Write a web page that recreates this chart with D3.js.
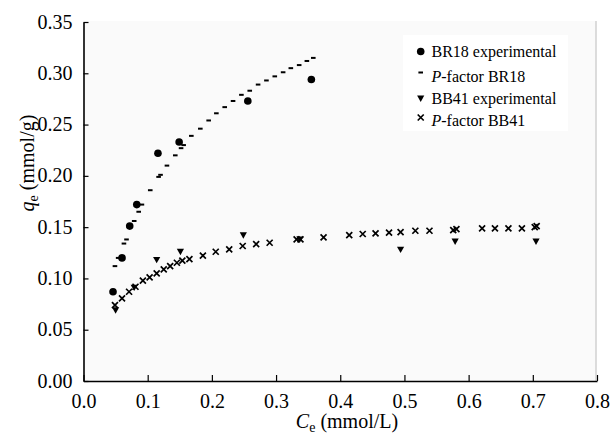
<!DOCTYPE html>
<html><head><meta charset="utf-8">
<script src="https://cdn.jsdelivr.net/npm/d3@7"></script>
<style>body{margin:0;background:#fff}svg{display:block}svg text{font-family:"Liberation Serif","Times New Roman",Times,"DejaVu Serif",serif !important;fill:#000}</style>
</head><body><svg id="c" width="611" height="437"></svg>
<script>
const xTicks = [0.0,0.1,0.2,0.3,0.4,0.5,0.6,0.7,0.8];
const yTicks = [0.00,0.05,0.10,0.15,0.20,0.25,0.30,0.35];

const br18ExpX = [0.046,0.060,0.072,0.083,0.116,0.149,0.256,0.355];
const br18ExpY = [0.087,0.120,0.151,0.172,0.222,0.233,0.273,0.294];

const br18FitX = [0.049,0.054,0.063,0.067,0.079,0.086,0.091,0.104,0.117,0.120,0.130,0.143,0.152,0.156,0.168,0.182,0.195,0.207,0.220,0.233,0.246,0.259,0.272,0.285,0.298,0.311,0.323,0.336,0.348,0.358];
const br18FitY = [0.112,0.120,0.134,0.138,0.156,0.165,0.172,0.186,0.199,0.201,0.210,0.220,0.227,0.230,0.239,0.246,0.254,0.261,0.267,0.273,0.279,0.283,0.289,0.293,0.297,0.301,0.305,0.308,0.312,0.315];

const bb41ExpX = [0.050,0.079,0.114,0.151,0.249,0.337,0.494,0.579,0.705];
const bb41ExpY = [0.069,0.091,0.118,0.126,0.142,0.138,0.128,0.136,0.136];

const bb41FitX = [0.049,0.060,0.071,0.081,0.0925,0.103,0.114,0.125,0.135,0.1455,0.154,0.165,0.186,0.206,0.227,0.248,0.269,0.290,0.332,0.338,0.374,0.414,0.435,0.455,0.476,0.494,0.517,0.539,0.576,0.581,0.621,0.641,0.662,0.683,0.703,0.706];
const bb41FitY = [0.074,0.0806,0.087,0.0919,0.0978,0.101,0.105,0.1089,0.112,0.1153,0.1173,0.1189,0.1222,0.126,0.1284,0.1316,0.1335,0.1348,0.1381,0.1381,0.140,0.1423,0.1433,0.144,0.1446,0.1452,0.1465,0.1465,0.147,0.148,0.1488,0.1488,0.1488,0.1488,0.150,0.151];

const legendLabels = [
  {kind:"circle", parts:[["BR18 experimental",false]]},
  {kind:"dash", parts:[["P",true],["-factor BR18",false]]},
  {kind:"tri", parts:[["BB41 experimental",false]]},
  {kind:"cross", parts:[["P",true],["-factor BB41",false]]}
];

const FONT = "'Liberation Serif','Times New Roman',Times,'DejaVu Serif',serif";
const svg = d3.select("#c").attr("font-family",FONT);
const L=83.5, R=597, T=22, B=381;
const x = d3.scaleLinear().domain([0,0.8]).range([L,R]);
const y = d3.scaleLinear().domain([0,0.35]).range([B,T]);

svg.append("rect").attr("x",L).attr("y",T-1).attr("width",R-L).attr("height",B-T+1).attr("fill","#fafafa");
svg.append("line").attr("x1",R-1).attr("x2",R-1).attr("y1",T-1).attr("y2",B).attr("stroke","#bdbdbd").attr("stroke-width",1);

// axes
const xa = svg.append("g").attr("transform",`translate(0,${B})`)
  .call(d3.axisBottom(x).tickValues(xTicks).tickFormat(d3.format(".1f")).tickSizeInner(-6).tickSizeOuter(0).tickPadding(13));
const ya = svg.append("g").attr("transform",`translate(${L},0)`)
  .call(d3.axisLeft(y).tickValues(yTicks).tickFormat(d3.format(".2f")).tickSizeInner(-5).tickSizeOuter(0).tickPadding(11));
[xa,ya].forEach(a=>{
  a.attr("font-family",FONT).attr("font-size",20);
  a.select(".domain").attr("stroke","#000").attr("stroke-width",1.6);
  a.selectAll(".tick line").attr("stroke","#000").attr("stroke-width",1.2);
  a.selectAll(".tick text").attr("font-size",20).attr("font-family",FONT).attr("fill","#000");
});
ya.selectAll(".tick text").attr("dy","0.3em");

// axis titles
const xt = svg.append("text").attr("x",347).attr("y",428).attr("text-anchor","middle").attr("font-size",20).attr("font-family",FONT);
xt.append("tspan").attr("font-style","italic").text("C");
xt.append("tspan").attr("font-size",14).attr("dy",4).text("e");
xt.append("tspan").attr("dy",-4).text(" (mmol/L)");

const yt = svg.append("text").attr("transform","translate(34,163) rotate(-90)").attr("text-anchor","middle").attr("font-size",20).attr("font-family",FONT);
yt.append("tspan").attr("font-style","italic").text("q");
yt.append("tspan").attr("font-size",14).attr("dy",4).text("e");
yt.append("tspan").attr("dy",-4).text(" (mmol/g)");

// markers
function drawCircle(g,cx,cy){g.append("circle").attr("cx",cx).attr("cy",cy).attr("r",3.8).attr("fill","#000");}
function drawDash(g,cx,cy){g.append("rect").attr("x",cx-2.3).attr("y",cy-1).attr("width",4.6).attr("height",2).attr("fill","#000");}
function drawTri(g,cx,cy){g.append("path").attr("d",`M${cx-3.6},${cy-3}L${cx+3.6},${cy-3}L${cx},${cy+3.4}Z`).attr("fill","#000");}
function drawCross(g,cx,cy){const s=3;g.append("path").attr("d",`M${cx-s},${cy-s}L${cx+s},${cy+s}M${cx-s},${cy+s}L${cx+s},${cy-s}`).attr("stroke","#000").attr("stroke-width",1.7).attr("fill","none");}

const gm = svg.append("g");
bb41FitX.forEach((v,i)=>drawCross(gm,x(v),y(bb41FitY[i])));
br18FitX.forEach((v,i)=>drawDash(gm,x(v),y(br18FitY[i])));
br18ExpX.forEach((v,i)=>drawCircle(gm,x(v),y(br18ExpY[i])));
bb41ExpX.forEach((v,i)=>drawTri(gm,x(v),y(bb41ExpY[i])));

// legend
const lg = svg.append("g");
lg.append("rect").attr("x",403).attr("y",35).attr("width",165).attr("height",96).attr("fill","#fff");
const rowY = [51.5, 76.5, 98.5, 120.5];
legendLabels.forEach((d,i)=>{
  const cy=rowY[i], cx=420.7;
  if(d.kind==="circle") drawCircle(lg,cx,cy);
  if(d.kind==="dash") drawDash(lg,cx,cy-4);
  if(d.kind==="tri") drawTri(lg,cx,cy);
  if(d.kind==="cross") drawCross(lg,cx,cy-3);
  const t = lg.append("text").attr("x",431.5).attr("y",cy+5.5).attr("font-size",16).attr("font-family",FONT);
  d.parts.forEach(p=>t.append("tspan").attr("font-style",p[1]?"italic":"normal").text(p[0]));
});
</script></body></html>
